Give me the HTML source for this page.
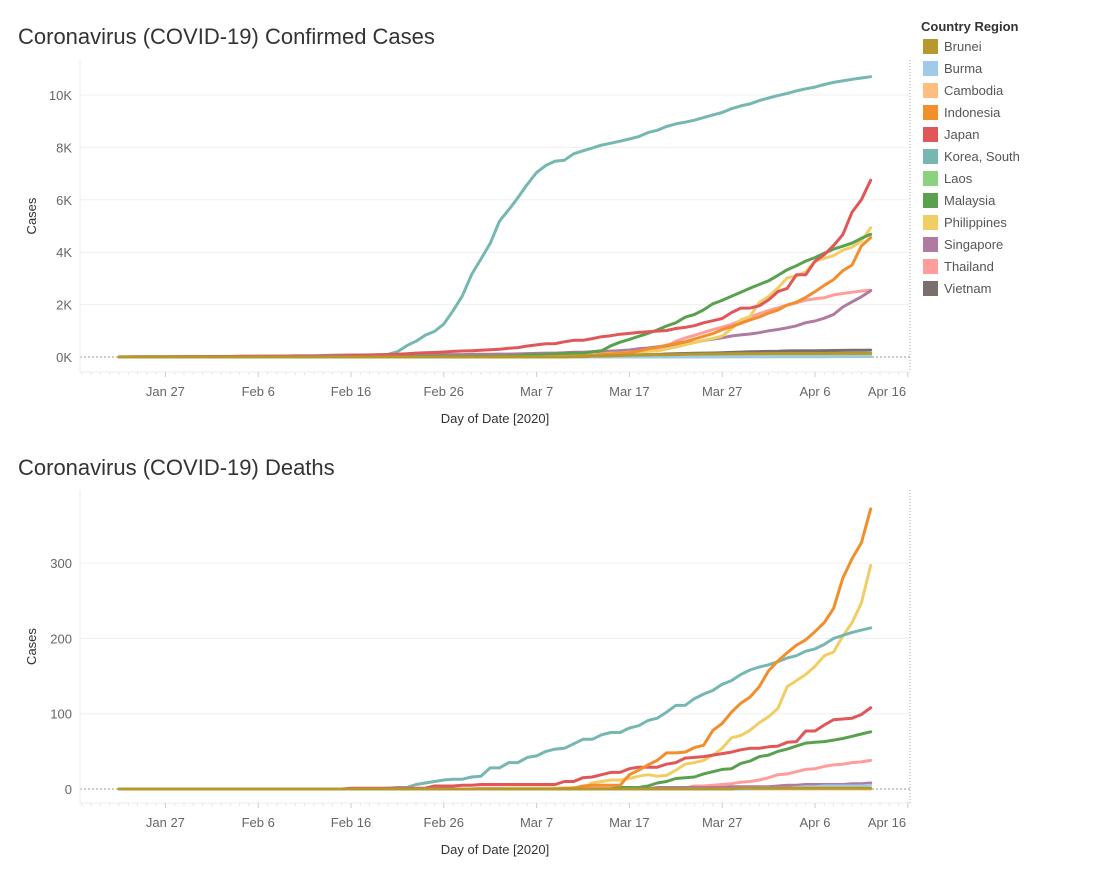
<!DOCTYPE html>
<html><head><meta charset="utf-8"><style>
body{margin:0;background:#fff;width:1099px;height:879px;overflow:hidden;font-family:"Liberation Sans",sans-serif}
svg text{font-family:"Liberation Sans",sans-serif}
</style></head><body>
<svg id="svg" width="1099" height="879"></svg>
<script>
const countries=["Brunei","Burma","Cambodia","Indonesia","Japan","Korea, South","Laos","Malaysia","Philippines","Singapore","Thailand","Vietnam"];
const colors=["#B6992D","#A0CBE8","#FFBE7D","#F28E2B","#E15759","#76B7B2","#8CD17D","#59A14F","#F1CE63","#B07AA1","#FF9D9A","#79706E"];
const xTickLabels=["Jan 27","Feb 6","Feb 16","Feb 26","Mar 7","Mar 17","Mar 27","Apr 6","Apr 16"];
const xTickDays=[5,15,25,35,45,55,65,75,85];
const casesTicks=[0,2000,4000,6000,8000,10000];
const casesTickLabels=["0K","2K","4K","6K","8K","10K"];
const deathsTicks=[0,100,200,300];
const deathsTickLabels=["0","100","200","300"];
const Z=n=>Array(n).fill(0);
const cases={
"Korea, South":[1,1,2,2,3,4,4,4,4,11,12,15,15,16,19,23,24,24,25,27,28,28,28,28,28,29,30,31,31,104,204,433,602,833,977,1261,1766,2337,3150,3736,4335,5186,5621,6088,6593,7041,7314,7478,7513,7755,7869,7979,8086,8162,8236,8320,8413,8565,8652,8799,8897,8961,9037,9137,9241,9332,9478,9583,9661,9786,9887,9976,10062,10156,10237,10300,10400,10480,10540,10600,10650,10700],
"Japan":[2,2,2,2,4,4,7,7,11,15,20,20,20,22,22,25,25,25,26,26,26,28,28,29,43,59,66,74,84,94,105,122,147,159,170,189,214,228,241,256,274,293,331,360,420,461,502,511,581,639,639,701,773,814,870,900,940,960,990,1010,1086,1128,1193,1307,1387,1468,1693,1866,1866,1953,2178,2495,2617,3139,3139,3654,3906,4257,4667,5530,6005,6748],
"Malaysia":[0,0,0,3,4,4,4,7,8,8,8,8,8,10,12,12,12,16,16,18,18,18,18,19,19,22,22,22,22,22,22,22,22,22,22,22,23,23,25,29,29,36,50,50,83,93,99,117,129,149,149,197,238,428,566,673,790,900,1030,1183,1306,1518,1624,1796,2031,2161,2320,2470,2626,2766,2908,3116,3333,3483,3662,3793,3963,4119,4228,4346,4530,4683],
"Philippines":[0,0,0,0,0,0,0,0,0,1,1,2,2,2,3,3,3,3,3,3,3,3,3,3,3,3,3,3,3,3,3,3,3,3,3,3,3,3,3,3,3,3,3,5,6,10,20,33,33,49,52,64,111,140,142,187,202,217,230,307,380,462,552,636,707,803,1075,1418,1546,2084,2311,2633,3018,3094,3246,3660,3764,3870,4076,4195,4428,4932],
"Indonesia":Z(40).concat([2,2,2,2,4,4,6,19,27,34,34,69,96,117,134,172,227,309,369,450,514,579,686,790,893,1046,1155,1285,1414,1528,1677,1790,1986,2092,2273,2491,2738,2956,3293,3512,4241,4557]),
"Thailand":[2,3,5,7,8,8,14,14,14,19,19,19,19,25,25,25,25,32,32,32,33,33,33,33,33,34,35,35,35,35,35,35,35,35,37,40,40,41,42,42,43,43,43,47,48,50,50,50,53,59,70,75,82,114,147,177,212,272,322,411,599,721,827,934,1045,1136,1245,1388,1524,1651,1771,1875,1978,2067,2169,2220,2258,2369,2423,2473,2518,2551],
"Singapore":[0,1,3,3,4,5,7,7,10,13,16,18,18,24,28,28,30,33,40,45,47,50,58,67,72,75,77,81,84,84,85,85,89,89,91,93,93,93,102,106,108,110,110,117,130,138,150,150,160,178,178,200,212,226,243,266,313,345,385,432,455,509,558,631,683,732,802,844,879,926,1000,1049,1114,1189,1309,1375,1481,1623,1910,2108,2299,2532],
"Vietnam":[0,2,2,2,2,2,2,2,2,2,6,8,8,8,10,10,12,13,13,14,15,15,16,16,16,16,16,16,16,16,16,16,16,16,16,16,16,16,16,16,16,16,16,16,18,21,30,31,31,39,47,53,56,61,66,75,85,91,94,113,123,134,141,148,153,163,174,188,203,207,212,218,233,237,240,241,245,249,251,255,257,262],
"Brunei":Z(47).concat([1,1,6,11,37,40,50,56,68,75,78,83,88,91,104,109,114,115,120,126,127,129,131,133,134,135,135,135,135,135,136,136,136,136,136]),
"Cambodia":[0,0,0,0,0,1,1,1,1,1,1,1,1,1,1,1,1,1,1,1,1,1,1,1,1,1,1,1,1,1,1,1,1,1,1,1,1,1,1,1,1,1,1,1,1,1,2,2,3,3,5,7,7,7,12,24,33,35,37,51,53,84,87,91,96,96,99,99,103,107,109,109,110,114,114,114,115,117,119,120,122,122],
"Laos":Z(61).concat([2,3,6,6,8,8,8,9,10,10,10,10,11,11,12,12,16,16,19,19,19]),
"Burma":Z(61).concat([3,3,3,5,8,8,10,14,15,15,20,20,21,22,22,22,23,27,27,28,41])
};
const deaths={
"Korea, South":Z(29).concat([1,2,2,6,8,10,12,13,13,16,17,28,28,35,35,42,44,50,53,54,60,66,66,72,75,75,81,84,91,94,102,111,111,120,126,131,139,144,152,158,162,165,169,174,177,183,186,192,200,204,208,211,214]),
"Japan":Z(25).concat([1,1,1,1,1,1,1,1,1,4,4,4,5,5,6,6,6,6,6,6,6,6,6,10,10,15,16,19,22,22,27,29,29,29,33,35,41,42,43,45,47,49,52,54,54,56,57,62,63,77,77,85,92,93,94,99,108]),
"Indonesia":Z(48).concat([1,1,4,5,5,5,5,19,25,32,38,48,48,49,55,58,78,87,102,114,122,136,157,170,181,191,198,209,221,240,280,306,327,372]),
"Philippines":Z(42).concat([1,1,1,1,1,1,1,2,2,8,10,12,12,14,17,19,17,18,25,33,35,38,45,54,68,71,78,88,96,107,136,144,152,163,177,182,203,221,247,297]),
"Malaysia":Z(54).concat([2,2,2,4,8,10,14,15,16,20,23,26,27,34,37,43,45,50,53,57,61,62,63,65,67,70,73,76]),
"Thailand":Z(39).concat([1,1,1,1,1,1,1,1,1,1,1,1,1,1,1,1,1,1,1,1,1,1,1,4,4,5,6,7,9,10,12,15,19,20,23,26,27,30,32,33,35,36,38]),
"Singapore":Z(58).concat([2,2,2,2,2,2,2,2,3,3,3,3,3,4,5,5,6,6,6,6,6,7,7,8]),
"Vietnam":Z(82),"Cambodia":Z(82),"Laos":Z(82),
"Brunei":Z(67).concat([1,1,1,1,1,1,1,1,1,1,1,1,1,1,1]),
"Burma":Z(69).concat([1,1,1,1,2,3,3,4,4,4,4,4,5])
};
const NS="http://www.w3.org/2000/svg";
const svg=document.getElementById('svg');
function mk(tag,attrs,parent){const e=document.createElementNS(NS,tag);for(const k in attrs)e.setAttribute(k,attrs[k]);(parent||svg).appendChild(e);return e;}
const X0=80,X1=910;
const xScale=d=>119+d*9.28;
function chart(cfg){
  const g=mk('g',{});
  
  
  const yS=v=>cfg.y0-(v/cfg.unit)*cfg.px;
  const t=mk('text',{x:18,y:cfg.titleY,'font-size':22,fill:'#333'},g);t.textContent=cfg.title;
  
  cfg.ticks.forEach((v,i)=>{
    if(v!==0){const l=mk('line',{x1:X0,x2:X1,y1:yS(v),y2:yS(v),stroke:'#efefef','stroke-width':1},g);
      }
    const tx=mk('text',{x:72,y:yS(v)+5,'font-size':13,fill:'#666','text-anchor':'end'},g);tx.textContent=cfg.tickLabels[i];
    
  });
  const zl=mk('line',{x1:X0,x2:X1,y1:yS(0),y2:yS(0),stroke:'#999','stroke-width':1,'stroke-dasharray':'2,2'},g);
  
  mk('line',{x1:X0,x2:X0,y1:cfg.top,y2:cfg.bot,stroke:'#eee'},g);
  mk('line',{x1:X0,x2:X1,y1:cfg.bot,y2:cfg.bot,stroke:'#eee'},g);
  const rb=mk('line',{x1:X1,x2:X1,y1:cfg.top,y2:cfg.bot,stroke:'#aaa','stroke-dasharray':'1,2'},g);
  
  for(let d=-4;d<=85;d++){const x=xScale(d);if(x<X0||x>X1)continue;
    const major=xTickDays.includes(d);
    mk('line',{x1:x,x2:x,y1:cfg.bot,y2:cfg.bot+(major?5:3),stroke:major?'#ccc':'#e6e6e6'},g);}
  xTickLabels.forEach((s,i)=>{let x=xScale(xTickDays[i]);if(x>885)x=887;
    const tx=mk('text',{x:x,y:cfg.bot+24,'font-size':13,fill:'#666','text-anchor':'middle'},g);tx.textContent=s;
    });
  const xt=mk('text',{x:495,y:cfg.bot+51,'font-size':13,fill:'#333','text-anchor':'middle'},g);xt.textContent='Day of Date [2020]';
  
  const ym=(cfg.top+cfg.bot)/2;
  const yt=mk('text',{x:36,y:ym,'font-size':13,fill:'#333','text-anchor':'middle',transform:`rotate(-90 36 ${ym})`},g);yt.textContent='Cases';
  
  for(let i=countries.length-1;i>=0;i--){const c=countries[i];const vals=cfg.data[c];
    const pts=vals.map((v,d)=>xScale(d).toFixed(1)+','+yS(v).toFixed(1)).join(' ');
    const p=mk('polyline',{points:pts,fill:'none',stroke:colors[i],'stroke-width':3,'stroke-linejoin':'round','stroke-linecap':'round'},g);
    
    }
}
chart({name:'confirmed-cases-chart',title:'Coronavirus (COVID-19) Confirmed Cases',titleY:44,top:60,bot:372,y0:357,unit:2000,px:52.4,ticks:casesTicks,tickLabels:casesTickLabels,data:cases});
chart({name:'deaths-chart',title:'Coronavirus (COVID-19) Deaths',titleY:475,top:490,bot:803,y0:789,unit:100,px:75.3,ticks:deathsTicks,tickLabels:deathsTickLabels,data:deaths});
const lg=mk('g',{});


const lt=mk('text',{x:921,y:31,'font-size':13,'font-weight':'bold',fill:'#333'},lg);lt.textContent='Country Region';
countries.forEach((c,i)=>{const y=39+i*22;
  const it=mk('g',{},lg);
  
  
  mk('rect',{x:923,y:y,width:15,height:15,fill:colors[i]},it);
  const tx=mk('text',{x:944,y:y+12,'font-size':13,fill:'#555'},it);tx.textContent=c;});
</script>
</body></html>
